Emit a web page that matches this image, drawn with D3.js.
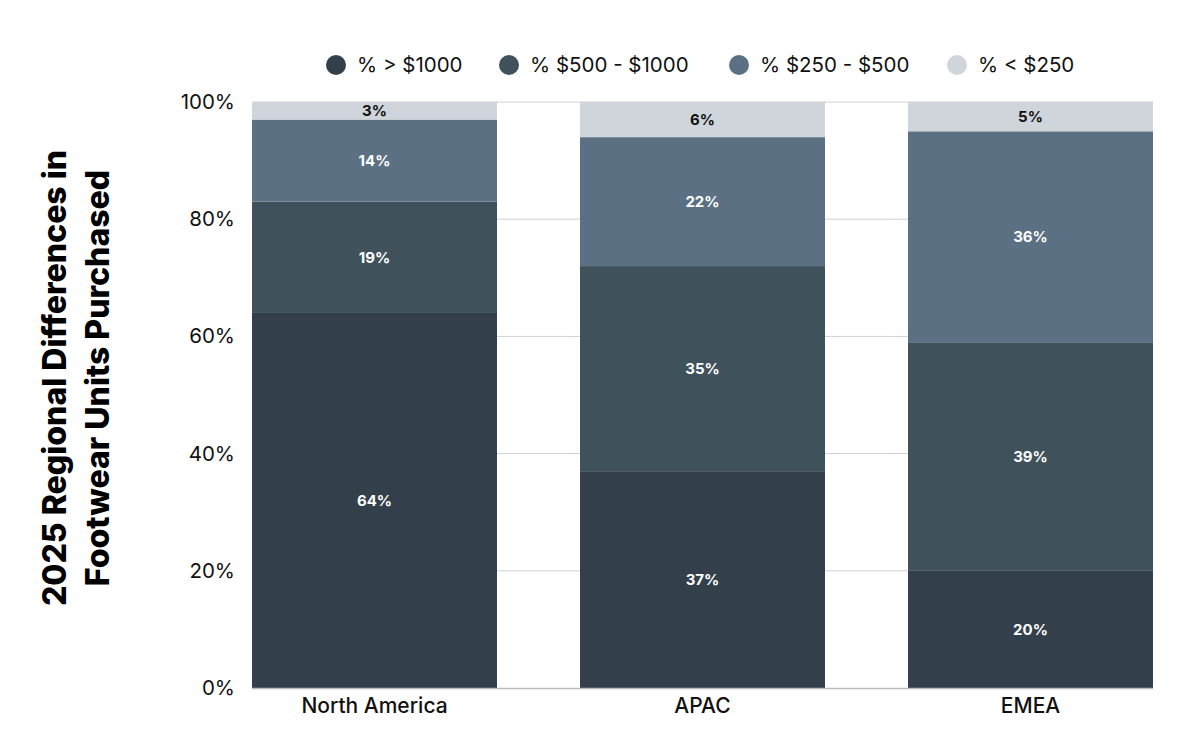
<!DOCTYPE html>
<html><head><meta charset="utf-8">
<script src="https://cdn.jsdelivr.net/npm/d3@7"></script>
<style>body{margin:0;background:#fff;}svg{font-family:"Inter","Lato",sans-serif;}</style>
</head><body>
<svg id="c" width="1200" height="750"></svg>
<script>
const regions = ["North America", "APAC", "EMEA"];
const seriesNames = ["% > $1000", "% $500 - $1000", "% $250 - $500", "% < $250"];
const over1000 = [64, 37, 20];
const from500to1000 = [19, 35, 39];
const from250to500 = [14, 22, 36];
const under250 = [3, 6, 5];
const yTicks = [0, 20, 40, 60, 80, 100];
const colors = ["#333f4a", "#3f525c", "#5c7083", "#cfd5db"];
const labelColors = ["#fff", "#fff", "#fff", "#111"];

const svg = d3.select("#c");
const x = d3.scaleBand().domain(regions).range([252, 1153]).paddingInner(83/328).paddingOuter(0);
const y = d3.scaleLinear().domain([0, 100]).range([688, 102]);

const rows = regions.map((r, i) => ({region: r, s0: over1000[i], s1: from500to1000[i], s2: from250to500[i], s3: under250[i]}));
const stack = d3.stack().keys(["s0", "s1", "s2", "s3"])(rows);

// gridlines
svg.append("g").selectAll("line").data(yTicks.filter(t => t > 0)).join("line")
  .attr("x1", 252).attr("x2", 1153).attr("y1", d => y(d)).attr("y2", d => y(d))
  .attr("stroke", "#d0d0d0").attr("stroke-width", 1);

// bars
stack.forEach((layer, li) => {
  const g = svg.append("g");
  g.selectAll("rect").data(layer).join("rect")
    .attr("x", d => x(d.data.region)).attr("width", x.bandwidth())
    .attr("y", d => y(d[1])).attr("height", d => y(d[0]) - y(d[1]))
    .attr("fill", colors[li]);
  g.selectAll("text").data(layer).join("text")
    .attr("x", d => x(d.data.region) + x.bandwidth() / 2)
    .attr("y", d => (y(d[0]) + y(d[1])) / 2)
    .attr("dy", "0.35em").attr("text-anchor", "middle")
    .attr("fill", labelColors[li]).attr("font-size", 15).attr("font-weight", 700)
    .text(d => (d[1] - d[0]) + "%");
});

// x axis line
svg.append("line").attr("x1", 252).attr("x2", 1153).attr("y1", 688.5).attr("y2", 688.5)
  .attr("stroke", "#bbbbbb").attr("stroke-width", 1.5);

// y tick labels
const yAxis = d3.axisLeft(y).tickValues(yTicks).tickFormat(d => d + "%").tickSize(0).tickPadding(17);
const ya = svg.append("g").attr("transform", "translate(252,0)").call(yAxis);
ya.select(".domain").remove();
ya.selectAll("text").attr("font-size", 20.5).attr("fill", "#111").attr("font-family", "Inter, Lato, sans-serif");

// x labels
const xAxis = d3.axisBottom(x).tickSize(0).tickPadding(10);
const xa = svg.append("g").attr("transform", "translate(0,688)").call(xAxis);
xa.select(".domain").remove();
xa.selectAll("text").attr("font-size", 21).attr("fill", "#111").attr("font-family", "Inter, Lato, sans-serif").attr("font-weight", 500);

// y title
const t = svg.append("text").attr("transform", "translate(0,378) rotate(-90)")
  .attr("text-anchor", "middle").attr("font-size", 32).attr("font-weight", 800).attr("fill", "#000");
t.append("tspan").attr("x", 0).attr("y", 66).text("2025 Regional Differences in");
t.append("tspan").attr("x", 0).attr("y", 109).text("Footwear Units Purchased");

// legend
const legX = [336, 509, 739, 957];
const lg = svg.append("g").selectAll("g").data(seriesNames).join("g")
  .attr("transform", (d, i) => `translate(${legX[i]},65)`);
lg.append("circle").attr("r", 10).attr("fill", (d, i) => colors[i]);
lg.append("text").attr("x", 21).attr("dy", "0.35em").attr("font-size", 20.5).attr("fill", "#111").text(d => d);
</script>
</body></html>
